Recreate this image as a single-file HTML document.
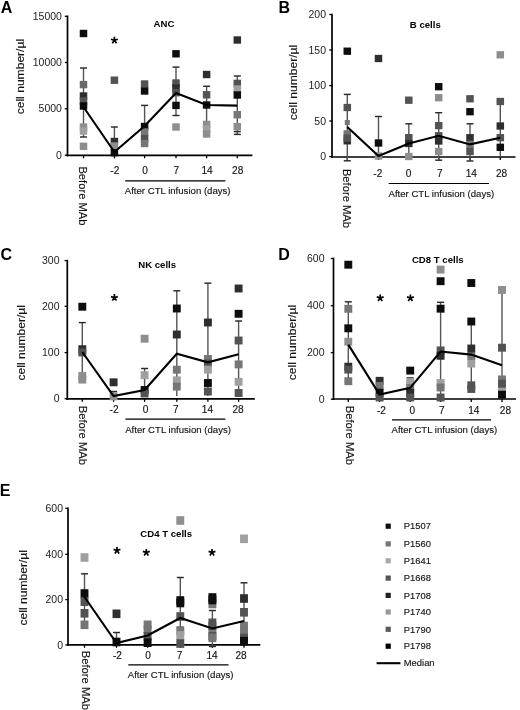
<!DOCTYPE html>
<html><head><meta charset="utf-8"><title>Figure</title>
<style>
html,body{margin:0;padding:0;background:#fff;}
body{width:520px;height:710px;overflow:hidden;}
svg{display:block;}
text{font-family:"Liberation Sans", sans-serif;fill:#111;stroke:#222;stroke-width:0.15px;}
.let{font-size:16px;font-weight:bold;fill:#000;stroke:none;}
.ttl{font-size:9.6px;font-weight:bold;fill:#000;stroke:none;}
.yl{font-size:10.3px;stroke:none;fill:#222;}
.ylab{font-size:10.8px;fill:#111;}
.xl{font-size:10.1px;fill:#111;}
.xl2{font-size:10.5px;fill:#111;}
.aft{font-size:9.6px;fill:#111;}
.lg{font-size:9.0px;fill:#111;}
.ast{stroke:#000;stroke-width:1.7;fill:none;}
.ax{stroke:#000;stroke-width:1.7;}
.tk{stroke:#000;stroke-width:1.3;}
.hl{stroke:#000;stroke-width:1.2;}
.eb{stroke:#555;stroke-width:1.4;}
.ec{stroke:#2a2a2a;stroke-width:1.45;}
.med{stroke:#000;stroke-width:2.1;fill:none;stroke-linejoin:miter;}
</style></head>
<body><svg width="520" height="710" viewBox="0 0 520 710">
<defs><filter id="soft" x="0" y="0" width="1" height="1"><feGaussianBlur stdDeviation="0.35"/></filter></defs>
<rect width="520" height="710" fill="#fff"/>
<g filter="url(#soft)">
<rect width="520" height="710" fill="#fff"/>
<text x="0.8" y="12.6" class="let">A</text>
<text x="164" y="27.3" class="ttl" text-anchor="middle">ANC</text>
<line x1="67.5" y1="15.5" x2="67.5" y2="156.3" class="ax"/>
<line x1="64.8" y1="16.3" x2="67.5" y2="16.3" class="tk"/>
<text transform="translate(61.9,19.9) scale(1.02,1)" class="yl" text-anchor="end">15000</text>
<line x1="64.8" y1="62.5" x2="67.5" y2="62.5" class="tk"/>
<text transform="translate(61.9,66.1) scale(1.02,1)" class="yl" text-anchor="end">10000</text>
<line x1="64.8" y1="108.8" x2="67.5" y2="108.8" class="tk"/>
<text transform="translate(61.9,112.4) scale(1.02,1)" class="yl" text-anchor="end">5000</text>
<line x1="64.8" y1="155.2" x2="67.5" y2="155.2" class="tk"/>
<text transform="translate(61.9,158.8) scale(1.02,1)" class="yl" text-anchor="end">0</text>
<line x1="66.6" y1="155.3" x2="252.4" y2="155.3" class="ax"/>
<line x1="83.5" y1="155.3" x2="83.5" y2="158.3" class="tk"/>
<line x1="114.4" y1="155.3" x2="114.4" y2="158.3" class="tk"/>
<line x1="144.6" y1="155.3" x2="144.6" y2="158.3" class="tk"/>
<line x1="176" y1="155.3" x2="176" y2="158.3" class="tk"/>
<line x1="206.6" y1="155.3" x2="206.6" y2="158.3" class="tk"/>
<line x1="237.3" y1="155.3" x2="237.3" y2="158.3" class="tk"/>
<text transform="translate(24,76.6) rotate(-90) scale(1.12,1)" class="ylab" text-anchor="middle">cell number/µl</text>
<text transform="translate(114.8,174.2)" class="xl" text-anchor="middle">-2</text>
<text transform="translate(145,174.2)" class="xl" text-anchor="middle">0</text>
<text transform="translate(176.4,174.2)" class="xl" text-anchor="middle">7</text>
<text transform="translate(207,174.2)" class="xl" text-anchor="middle">14</text>
<text transform="translate(237.7,174.2)" class="xl" text-anchor="middle">28</text>
<text transform="translate(78.9,166.4) rotate(90) scale(1.067,1)" class="xl2">Before MAb</text>
<line x1="125.2" y1="180.8" x2="225.4" y2="180.8" class="hl"/>
<text x="124.8" y="194.2" class="aft">After CTL infusion (days)</text>
<line x1="83.5" y1="68" x2="83.5" y2="137" class="eb"/>
<line x1="80" y1="68" x2="87" y2="68" class="ec"/>
<line x1="80" y1="137" x2="87" y2="137" class="ec"/>
<line x1="114.4" y1="127" x2="114.4" y2="152" class="eb"/>
<line x1="110.9" y1="127" x2="117.9" y2="127" class="ec"/>
<line x1="144.6" y1="105.4" x2="144.6" y2="143.5" class="eb"/>
<line x1="141.1" y1="105.4" x2="148.1" y2="105.4" class="ec"/>
<line x1="176" y1="67.1" x2="176" y2="115.5" class="eb"/>
<line x1="172.5" y1="67.1" x2="179.5" y2="67.1" class="ec"/>
<line x1="172.5" y1="115.5" x2="179.5" y2="115.5" class="ec"/>
<line x1="206.6" y1="86.3" x2="206.6" y2="132" class="eb"/>
<line x1="203.1" y1="86.3" x2="210.1" y2="86.3" class="ec"/>
<line x1="237.3" y1="76" x2="237.3" y2="134.4" class="eb"/>
<line x1="233.8" y1="76" x2="240.8" y2="76" class="ec"/>
<line x1="233.8" y1="134.4" x2="240.8" y2="134.4" class="ec"/>
<line x1="233.8" y1="131.6" x2="240.8" y2="131.6" class="ec"/>
<rect x="79.75" y="29.8" width="7.5" height="7.4" fill="#0d0d0d"/>
<rect x="79.75" y="80.9" width="7.5" height="7.4" fill="#6a6a6a"/>
<rect x="79.75" y="92.3" width="7.5" height="7.4" fill="#2e2e2e"/>
<rect x="79.75" y="97.3" width="7.5" height="7.4" fill="#525252"/>
<rect x="79.75" y="102.3" width="7.5" height="7.4" fill="#0d0d0d"/>
<rect x="79.75" y="123.3" width="7.5" height="7.4" fill="#8e8e8e"/>
<rect x="79.75" y="127.3" width="7.5" height="7.4" fill="#a0a0a0"/>
<rect x="79.75" y="142.6" width="7.5" height="7.4" fill="#8e8e8e"/>
<rect x="110.65" y="76.5" width="7.5" height="7.4" fill="#525252"/>
<rect x="110.65" y="137.8" width="7.5" height="7.4" fill="#2e2e2e"/>
<rect x="110.65" y="142.3" width="7.5" height="7.4" fill="#8e8e8e"/>
<rect x="110.65" y="149" width="7.5" height="7.4" fill="#0d0d0d"/>
<rect x="140.85" y="80.3" width="7.5" height="7.4" fill="#525252"/>
<rect x="140.85" y="87.3" width="7.5" height="7.4" fill="#0d0d0d"/>
<rect x="140.85" y="122.8" width="7.5" height="7.4" fill="#0d0d0d"/>
<rect x="140.85" y="128.3" width="7.5" height="7.4" fill="#767676"/>
<rect x="140.85" y="134.9" width="7.5" height="7.4" fill="#525252"/>
<rect x="140.85" y="139.8" width="7.5" height="7.4" fill="#767676"/>
<rect x="172.25" y="50.1" width="7.5" height="7.4" fill="#0d0d0d"/>
<rect x="172.25" y="79.3" width="7.5" height="7.4" fill="#525252"/>
<rect x="172.25" y="84.3" width="7.5" height="7.4" fill="#2e2e2e"/>
<rect x="172.25" y="89" width="7.5" height="7.4" fill="#525252"/>
<rect x="172.25" y="101.7" width="7.5" height="7.4" fill="#0d0d0d"/>
<rect x="172.25" y="123.3" width="7.5" height="7.4" fill="#8e8e8e"/>
<rect x="202.85" y="70.8" width="7.5" height="7.4" fill="#2e2e2e"/>
<rect x="202.85" y="91.1" width="7.5" height="7.4" fill="#525252"/>
<rect x="202.85" y="101.3" width="7.5" height="7.4" fill="#0d0d0d"/>
<rect x="202.85" y="120.7" width="7.5" height="7.4" fill="#8e8e8e"/>
<rect x="202.85" y="125.3" width="7.5" height="7.4" fill="#a0a0a0"/>
<rect x="202.85" y="130.3" width="7.5" height="7.4" fill="#8e8e8e"/>
<rect x="233.55" y="36.3" width="7.5" height="7.4" fill="#2e2e2e"/>
<rect x="233.55" y="79.7" width="7.5" height="7.4" fill="#525252"/>
<rect x="233.55" y="85.3" width="7.5" height="7.4" fill="#a0a0a0"/>
<rect x="233.55" y="91.3" width="7.5" height="7.4" fill="#0d0d0d"/>
<rect x="233.55" y="111" width="7.5" height="7.4" fill="#767676"/>
<rect x="233.55" y="123" width="7.5" height="7.4" fill="#8e8e8e"/>
<polyline points="83.5,107 114.4,152 144.6,126 176,93 206.6,105 237.3,105.6" class="med"/>
<path d="M114.4,40.3L114.4,36.7M114.4,40.3L117.82,39.19M114.4,40.3L116.52,43.21M114.4,40.3L112.28,43.21M114.4,40.3L110.98,39.19" class="ast"/>
<text x="278.6" y="12.6" class="let">B</text>
<text x="425.3" y="28" class="ttl" text-anchor="middle">B cells</text>
<line x1="332" y1="13.7" x2="332" y2="158" class="ax"/>
<line x1="329.3" y1="14.5" x2="332" y2="14.5" class="tk"/>
<text transform="translate(326,18.1) scale(1.02,1)" class="yl" text-anchor="end">200</text>
<line x1="329.3" y1="50" x2="332" y2="50" class="tk"/>
<text transform="translate(326,53.6) scale(1.02,1)" class="yl" text-anchor="end">150</text>
<line x1="329.3" y1="85.6" x2="332" y2="85.6" class="tk"/>
<text transform="translate(326,89.2) scale(1.02,1)" class="yl" text-anchor="end">100</text>
<line x1="329.3" y1="121" x2="332" y2="121" class="tk"/>
<text transform="translate(326,124.6) scale(1.02,1)" class="yl" text-anchor="end">50</text>
<line x1="329.3" y1="156.6" x2="332" y2="156.6" class="tk"/>
<text transform="translate(326,160.2) scale(1.02,1)" class="yl" text-anchor="end">0</text>
<line x1="331.1" y1="157" x2="515.5" y2="157" class="ax"/>
<line x1="347.3" y1="157" x2="347.3" y2="160" class="tk"/>
<line x1="378.5" y1="157" x2="378.5" y2="160" class="tk"/>
<line x1="408.8" y1="157" x2="408.8" y2="160" class="tk"/>
<line x1="438.7" y1="157" x2="438.7" y2="160" class="tk"/>
<line x1="470" y1="157" x2="470" y2="160" class="tk"/>
<line x1="500.3" y1="157" x2="500.3" y2="160" class="tk"/>
<text transform="translate(296.75,82.5) rotate(-90) scale(1.12,1)" class="ylab" text-anchor="middle">cell number/µl</text>
<text transform="translate(377.8,176.5)" class="xl" text-anchor="middle">-2</text>
<text transform="translate(408.6,176.5)" class="xl" text-anchor="middle">0</text>
<text transform="translate(439.7,176.5)" class="xl" text-anchor="middle">7</text>
<text transform="translate(471.3,176.5)" class="xl" text-anchor="middle">14</text>
<text transform="translate(501.6,176.5)" class="xl" text-anchor="middle">28</text>
<text transform="translate(342.8,168.9) rotate(90) scale(1.067,1)" class="xl2">Before MAb</text>
<line x1="388.7" y1="183.5" x2="489" y2="183.5" class="hl"/>
<text x="388.5" y="197" class="aft">After CTL infusion (days)</text>
<line x1="347.3" y1="94.4" x2="347.3" y2="160.8" class="eb"/>
<line x1="343.8" y1="94.4" x2="350.8" y2="94.4" class="ec"/>
<line x1="343.8" y1="160.8" x2="350.8" y2="160.8" class="ec"/>
<line x1="378.5" y1="116.5" x2="378.5" y2="156" class="eb"/>
<line x1="375" y1="116.5" x2="382" y2="116.5" class="ec"/>
<line x1="408.8" y1="123.8" x2="408.8" y2="156.5" class="eb"/>
<line x1="405.3" y1="123.8" x2="412.3" y2="123.8" class="ec"/>
<line x1="438.7" y1="112.7" x2="438.7" y2="160.2" class="eb"/>
<line x1="435.2" y1="112.7" x2="442.2" y2="112.7" class="ec"/>
<line x1="435.2" y1="160.2" x2="442.2" y2="160.2" class="ec"/>
<line x1="470" y1="123.8" x2="470" y2="161" class="eb"/>
<line x1="466.5" y1="123.8" x2="473.5" y2="123.8" class="ec"/>
<line x1="466.5" y1="161" x2="473.5" y2="161" class="ec"/>
<line x1="500.3" y1="101.5" x2="500.3" y2="157" class="eb"/>
<line x1="496.8" y1="101.5" x2="503.8" y2="101.5" class="ec"/>
<rect x="343.55" y="47.55" width="7.5" height="7.3" fill="#0d0d0d"/>
<rect x="343.55" y="103.85" width="7.5" height="7.3" fill="#525252"/>
<rect x="344.8" y="120" width="5" height="5" fill="#767676"/>
<rect x="343.55" y="130.25" width="7.5" height="7.3" fill="#767676"/>
<rect x="343.55" y="137.15" width="7.5" height="7.3" fill="#2e2e2e"/>
<rect x="343.55" y="134.45" width="7.5" height="7.3" fill="#525252"/>
<rect x="374.75" y="54.85" width="7.5" height="7.3" fill="#2e2e2e"/>
<rect x="374.75" y="139.35" width="7.5" height="7.3" fill="#0d0d0d"/>
<rect x="374.75" y="152.35" width="7.5" height="7.3" fill="#8e8e8e"/>
<rect x="405.05" y="96.55" width="7.5" height="7.3" fill="#525252"/>
<rect x="405.05" y="134.05" width="7.5" height="7.3" fill="#525252"/>
<rect x="405.05" y="139.85" width="7.5" height="7.3" fill="#2e2e2e"/>
<rect x="405.05" y="152.85" width="7.5" height="7.3" fill="#8e8e8e"/>
<rect x="434.95" y="83.05" width="7.5" height="7.3" fill="#0d0d0d"/>
<rect x="434.95" y="94.05" width="7.5" height="7.3" fill="#8e8e8e"/>
<rect x="434.95" y="121.95" width="7.5" height="7.3" fill="#525252"/>
<rect x="434.95" y="132.15" width="7.5" height="7.3" fill="#525252"/>
<rect x="434.95" y="137.35" width="7.5" height="7.3" fill="#2e2e2e"/>
<rect x="434.95" y="147.85" width="7.5" height="7.3" fill="#8e8e8e"/>
<rect x="466.25" y="95.15" width="7.5" height="7.3" fill="#525252"/>
<rect x="466.25" y="108.05" width="7.5" height="7.3" fill="#0d0d0d"/>
<rect x="466.25" y="134.05" width="7.5" height="7.3" fill="#2e2e2e"/>
<rect x="466.25" y="140.75" width="7.5" height="7.3" fill="#767676"/>
<rect x="466.25" y="147.85" width="7.5" height="7.3" fill="#525252"/>
<rect x="496.55" y="51.15" width="7.5" height="7.3" fill="#8e8e8e"/>
<rect x="496.55" y="97.85" width="7.5" height="7.3" fill="#525252"/>
<rect x="496.55" y="122.35" width="7.5" height="7.3" fill="#2e2e2e"/>
<rect x="496.55" y="134.05" width="7.5" height="7.3" fill="#525252"/>
<rect x="496.55" y="143.65" width="7.5" height="7.3" fill="#0d0d0d"/>
<polyline points="347.3,127 378.5,156 408.8,143.5 438.7,135.8 470,144.4 500.3,137.7" class="med"/>
<text x="0.4" y="260" class="let">C</text>
<text x="157.2" y="268.4" class="ttl" text-anchor="middle">NK cells</text>
<line x1="67.3" y1="259.8" x2="67.3" y2="399.8" class="ax"/>
<line x1="64.6" y1="260.6" x2="67.3" y2="260.6" class="tk"/>
<text transform="translate(59.5,264.2) scale(1.02,1)" class="yl" text-anchor="end">300</text>
<line x1="64.6" y1="306.3" x2="67.3" y2="306.3" class="tk"/>
<text transform="translate(59.5,309.9) scale(1.02,1)" class="yl" text-anchor="end">200</text>
<line x1="64.6" y1="352.6" x2="67.3" y2="352.6" class="tk"/>
<text transform="translate(59.5,356.2) scale(1.02,1)" class="yl" text-anchor="end">100</text>
<line x1="64.6" y1="398.7" x2="67.3" y2="398.7" class="tk"/>
<text transform="translate(59.5,402.3) scale(1.02,1)" class="yl" text-anchor="end">0</text>
<line x1="66.4" y1="398.8" x2="254.8" y2="398.8" class="ax"/>
<line x1="82.3" y1="398.8" x2="82.3" y2="401.8" class="tk"/>
<line x1="113.6" y1="398.8" x2="113.6" y2="401.8" class="tk"/>
<line x1="144.6" y1="398.8" x2="144.6" y2="401.8" class="tk"/>
<line x1="176.8" y1="398.8" x2="176.8" y2="401.8" class="tk"/>
<line x1="207.9" y1="398.8" x2="207.9" y2="401.8" class="tk"/>
<line x1="238.6" y1="398.8" x2="238.6" y2="401.8" class="tk"/>
<text transform="translate(24.5,342.8) rotate(-90) scale(1.12,1)" class="ylab" text-anchor="middle">cell number/µl</text>
<text transform="translate(114,412.8)" class="xl" text-anchor="middle">-2</text>
<text transform="translate(145.6,412.8)" class="xl" text-anchor="middle">0</text>
<text transform="translate(175.8,412.8)" class="xl" text-anchor="middle">7</text>
<text transform="translate(207.4,412.8)" class="xl" text-anchor="middle">14</text>
<text transform="translate(238.1,412.8)" class="xl" text-anchor="middle">28</text>
<text transform="translate(79.2,405.8) rotate(90) scale(1.067,1)" class="xl2">Before MAb</text>
<line x1="125.4" y1="419.2" x2="225.4" y2="419.2" class="hl"/>
<text x="125.2" y="432.7" class="aft">After CTL infusion (days)</text>
<line x1="82.3" y1="322.6" x2="82.3" y2="380" class="eb"/>
<line x1="78.8" y1="322.6" x2="85.8" y2="322.6" class="ec"/>
<line x1="113.6" y1="391.5" x2="113.6" y2="396" class="eb"/>
<line x1="110.1" y1="391.5" x2="117.1" y2="391.5" class="ec"/>
<line x1="144.6" y1="368.5" x2="144.6" y2="393.5" class="eb"/>
<line x1="141.1" y1="368.5" x2="148.1" y2="368.5" class="ec"/>
<line x1="176.8" y1="290.8" x2="176.8" y2="396" class="eb"/>
<line x1="173.3" y1="290.8" x2="180.3" y2="290.8" class="ec"/>
<line x1="207.9" y1="283.2" x2="207.9" y2="396" class="eb"/>
<line x1="204.4" y1="283.2" x2="211.4" y2="283.2" class="ec"/>
<line x1="238.6" y1="321" x2="238.6" y2="393" class="eb"/>
<line x1="235.1" y1="321" x2="242.1" y2="321" class="ec"/>
<rect x="78.35" y="302.75" width="7.9" height="7.9" fill="#0d0d0d"/>
<rect x="78.35" y="345.25" width="7.9" height="7.9" fill="#2e2e2e"/>
<rect x="78.35" y="348.55" width="7.9" height="7.9" fill="#525252"/>
<rect x="78.35" y="372.05" width="7.9" height="7.9" fill="#8e8e8e"/>
<rect x="78.35" y="375.65" width="7.9" height="7.9" fill="#8e8e8e"/>
<rect x="109.65" y="378.35" width="7.9" height="7.9" fill="#2e2e2e"/>
<rect x="109.65" y="392.35" width="7.9" height="7.9" fill="#8e8e8e"/>
<rect x="140.65" y="334.75" width="7.9" height="7.9" fill="#8e8e8e"/>
<rect x="140.65" y="371.25" width="7.9" height="7.9" fill="#a0a0a0"/>
<rect x="140.65" y="386.05" width="7.9" height="7.9" fill="#0d0d0d"/>
<rect x="140.65" y="389.55" width="7.9" height="7.9" fill="#525252"/>
<rect x="172.85" y="304.55" width="7.9" height="7.9" fill="#0d0d0d"/>
<rect x="172.85" y="330.55" width="7.9" height="7.9" fill="#2e2e2e"/>
<rect x="172.85" y="365.75" width="7.9" height="7.9" fill="#767676"/>
<rect x="172.85" y="376.35" width="7.9" height="7.9" fill="#a0a0a0"/>
<rect x="172.85" y="382.65" width="7.9" height="7.9" fill="#767676"/>
<rect x="203.95" y="318.55" width="7.9" height="7.9" fill="#2e2e2e"/>
<rect x="203.95" y="355.05" width="7.9" height="7.9" fill="#767676"/>
<rect x="203.95" y="359.45" width="7.9" height="7.9" fill="#525252"/>
<rect x="203.95" y="365.75" width="7.9" height="7.9" fill="#a0a0a0"/>
<rect x="203.95" y="379.05" width="7.9" height="7.9" fill="#0d0d0d"/>
<rect x="203.95" y="387.55" width="7.9" height="7.9" fill="#525252"/>
<rect x="234.65" y="284.55" width="7.9" height="7.9" fill="#2e2e2e"/>
<rect x="234.65" y="309.85" width="7.9" height="7.9" fill="#0d0d0d"/>
<rect x="234.65" y="336.55" width="7.9" height="7.9" fill="#525252"/>
<rect x="234.65" y="360.45" width="7.9" height="7.9" fill="#767676"/>
<rect x="234.65" y="377.85" width="7.9" height="7.9" fill="#a0a0a0"/>
<rect x="234.65" y="389.05" width="7.9" height="7.9" fill="#525252"/>
<polyline points="82.3,352 113.6,396 144.6,390 176.8,353.8 207.9,362.3 238.6,354.3" class="med"/>
<path d="M114.4,297.7L114.4,294.1M114.4,297.7L117.82,296.59M114.4,297.7L116.52,300.61M114.4,297.7L112.28,300.61M114.4,297.7L110.98,296.59" class="ast"/>
<text x="278.2" y="259.5" class="let">D</text>
<text x="437.8" y="263" class="ttl" text-anchor="middle">CD8 T cells</text>
<line x1="333.5" y1="257.7" x2="333.5" y2="400" class="ax"/>
<line x1="330.8" y1="258.5" x2="333.5" y2="258.5" class="tk"/>
<text transform="translate(324.5,262.1) scale(1.02,1)" class="yl" text-anchor="end">600</text>
<line x1="330.8" y1="305.7" x2="333.5" y2="305.7" class="tk"/>
<text transform="translate(324.5,309.3) scale(1.02,1)" class="yl" text-anchor="end">400</text>
<line x1="330.8" y1="352.6" x2="333.5" y2="352.6" class="tk"/>
<text transform="translate(324.5,356.2) scale(1.02,1)" class="yl" text-anchor="end">200</text>
<line x1="330.8" y1="399.2" x2="333.5" y2="399.2" class="tk"/>
<text transform="translate(324.5,402.8) scale(1.02,1)" class="yl" text-anchor="end">0</text>
<line x1="332.6" y1="399" x2="516" y2="399" class="ax"/>
<line x1="348.3" y1="399" x2="348.3" y2="402" class="tk"/>
<line x1="379.6" y1="399" x2="379.6" y2="402" class="tk"/>
<line x1="410.2" y1="399" x2="410.2" y2="402" class="tk"/>
<line x1="440.6" y1="399" x2="440.6" y2="402" class="tk"/>
<line x1="471.3" y1="399" x2="471.3" y2="402" class="tk"/>
<line x1="502" y1="399" x2="502" y2="402" class="tk"/>
<text transform="translate(296.45,342.5) rotate(-90) scale(1.12,1)" class="ylab" text-anchor="middle">cell number/µl</text>
<text transform="translate(381.4,413.5)" class="xl" text-anchor="middle">-2</text>
<text transform="translate(412.2,413.5)" class="xl" text-anchor="middle">0</text>
<text transform="translate(441.8,413.5)" class="xl" text-anchor="middle">7</text>
<text transform="translate(473.8,413.5)" class="xl" text-anchor="middle">14</text>
<text transform="translate(505.4,413.5)" class="xl" text-anchor="middle">28</text>
<text transform="translate(345.8,405.8) rotate(90) scale(1.067,1)" class="xl2">Before MAb</text>
<line x1="392" y1="419.8" x2="491" y2="419.8" class="hl"/>
<text x="391.5" y="433.3" class="aft">After CTL infusion (days)</text>
<line x1="348.3" y1="301.8" x2="348.3" y2="381.2" class="eb"/>
<line x1="344.8" y1="301.8" x2="351.8" y2="301.8" class="ec"/>
<line x1="410.2" y1="377.9" x2="410.2" y2="397.5" class="eb"/>
<line x1="406.7" y1="377.9" x2="413.7" y2="377.9" class="ec"/>
<line x1="440.6" y1="302.3" x2="440.6" y2="397.5" class="eb"/>
<line x1="437.1" y1="302.3" x2="444.1" y2="302.3" class="ec"/>
<line x1="471.3" y1="321.5" x2="471.3" y2="386.5" class="eb"/>
<line x1="502" y1="290" x2="502" y2="397" class="eb"/>
<line x1="498.5" y1="290" x2="505.5" y2="290" class="ec"/>
<rect x="344.35" y="260.75" width="7.9" height="7.9" fill="#0d0d0d"/>
<rect x="344.35" y="304.85" width="7.9" height="7.9" fill="#767676"/>
<rect x="344.35" y="324.35" width="7.9" height="7.9" fill="#0d0d0d"/>
<rect x="344.35" y="337.75" width="7.9" height="7.9" fill="#8e8e8e"/>
<rect x="344.35" y="362.75" width="7.9" height="7.9" fill="#2e2e2e"/>
<rect x="344.35" y="365.65" width="7.9" height="7.9" fill="#525252"/>
<rect x="344.35" y="377.25" width="7.9" height="7.9" fill="#767676"/>
<rect x="375.65" y="376.85" width="7.9" height="7.9" fill="#2e2e2e"/>
<rect x="375.65" y="382.05" width="7.9" height="7.9" fill="#767676"/>
<rect x="375.65" y="388.75" width="7.9" height="7.9" fill="#0d0d0d"/>
<rect x="375.65" y="393.55" width="7.9" height="7.9" fill="#525252"/>
<rect x="406.25" y="366.65" width="7.9" height="7.9" fill="#0d0d0d"/>
<rect x="406.25" y="378.05" width="7.9" height="7.9" fill="#a0a0a0"/>
<rect x="406.25" y="383.95" width="7.9" height="7.9" fill="#767676"/>
<rect x="406.25" y="388.75" width="7.9" height="7.9" fill="#2e2e2e"/>
<rect x="406.25" y="393.55" width="7.9" height="7.9" fill="#525252"/>
<rect x="436.65" y="265.65" width="7.9" height="7.9" fill="#8e8e8e"/>
<rect x="436.65" y="277.25" width="7.9" height="7.9" fill="#0d0d0d"/>
<rect x="436.65" y="304.75" width="7.9" height="7.9" fill="#0d0d0d"/>
<rect x="436.65" y="346.45" width="7.9" height="7.9" fill="#525252"/>
<rect x="436.65" y="351.85" width="7.9" height="7.9" fill="#2e2e2e"/>
<rect x="436.65" y="379.05" width="7.9" height="7.9" fill="#a0a0a0"/>
<rect x="436.65" y="383.55" width="7.9" height="7.9" fill="#767676"/>
<rect x="436.65" y="393.55" width="7.9" height="7.9" fill="#525252"/>
<rect x="467.35" y="279.05" width="7.9" height="7.9" fill="#0d0d0d"/>
<rect x="467.35" y="317.55" width="7.9" height="7.9" fill="#0d0d0d"/>
<rect x="467.35" y="359.65" width="7.9" height="7.9" fill="#a0a0a0"/>
<rect x="467.35" y="352.05" width="7.9" height="7.9" fill="#767676"/>
<rect x="467.35" y="344.55" width="7.9" height="7.9" fill="#2e2e2e"/>
<rect x="467.35" y="381.35" width="7.9" height="7.9" fill="#525252"/>
<rect x="467.35" y="385.05" width="7.9" height="7.9" fill="#525252"/>
<rect x="498.05" y="286.05" width="7.9" height="7.9" fill="#8e8e8e"/>
<rect x="498.05" y="343.75" width="7.9" height="7.9" fill="#525252"/>
<rect x="498.05" y="384.55" width="7.9" height="7.9" fill="#a0a0a0"/>
<rect x="498.05" y="375.45" width="7.9" height="7.9" fill="#767676"/>
<rect x="498.05" y="379.75" width="7.9" height="7.9" fill="#525252"/>
<rect x="498.05" y="390.75" width="7.9" height="7.9" fill="#0d0d0d"/>
<polyline points="348.3,344.6 379.6,394.6 410.2,387.9 440.6,351.5 471.3,354.6 502,365.2" class="med"/>
<path d="M380.2,298L380.2,294.4M380.2,298L383.62,296.89M380.2,298L382.32,300.91M380.2,298L378.08,300.91M380.2,298L376.78,296.89" class="ast"/>
<path d="M410.4,298L410.4,294.4M410.4,298L413.82,296.89M410.4,298L412.52,300.91M410.4,298L408.28,300.91M410.4,298L406.98,296.89" class="ast"/>
<text x="-0.2" y="495.8" class="let">E</text>
<text x="166.2" y="537" class="ttl" text-anchor="middle">CD4 T cells</text>
<line x1="68" y1="507.5" x2="68" y2="645.8" class="ax"/>
<line x1="65.3" y1="508.3" x2="68" y2="508.3" class="tk"/>
<text transform="translate(63,511.9) scale(1.02,1)" class="yl" text-anchor="end">600</text>
<line x1="65.3" y1="554.3" x2="68" y2="554.3" class="tk"/>
<text transform="translate(63,557.9) scale(1.02,1)" class="yl" text-anchor="end">400</text>
<line x1="65.3" y1="599.6" x2="68" y2="599.6" class="tk"/>
<text transform="translate(63,603.2) scale(1.02,1)" class="yl" text-anchor="end">200</text>
<line x1="65.3" y1="645" x2="68" y2="645" class="tk"/>
<text transform="translate(63,648.6) scale(1.02,1)" class="yl" text-anchor="end">0</text>
<line x1="67.1" y1="644.8" x2="260.3" y2="644.8" class="ax"/>
<line x1="84.5" y1="644.8" x2="84.5" y2="647.8" class="tk"/>
<line x1="116.5" y1="644.8" x2="116.5" y2="647.8" class="tk"/>
<line x1="147.6" y1="644.8" x2="147.6" y2="647.8" class="tk"/>
<line x1="180.3" y1="644.8" x2="180.3" y2="647.8" class="tk"/>
<line x1="212.4" y1="644.8" x2="212.4" y2="647.8" class="tk"/>
<line x1="244" y1="644.8" x2="244" y2="647.8" class="tk"/>
<text transform="translate(26.7,587.8) rotate(-90) scale(1.12,1)" class="ylab" text-anchor="middle">cell number/µl</text>
<text transform="translate(117.4,658.5)" class="xl" text-anchor="middle">-2</text>
<text transform="translate(148,658.5)" class="xl" text-anchor="middle">0</text>
<text transform="translate(179.5,658.5)" class="xl" text-anchor="middle">7</text>
<text transform="translate(212.1,658.5)" class="xl" text-anchor="middle">14</text>
<text transform="translate(241,658.5)" class="xl" text-anchor="middle">28</text>
<text transform="translate(81.5,650.8) rotate(90) scale(1.067,1)" class="xl2">Before MAb</text>
<line x1="128.3" y1="664.8" x2="228.5" y2="664.8" class="hl"/>
<text x="127.8" y="678.3" class="aft">After CTL infusion (days)</text>
<line x1="84.5" y1="573.8" x2="84.5" y2="624.8" class="eb"/>
<line x1="81" y1="573.8" x2="88" y2="573.8" class="ec"/>
<line x1="116.5" y1="632.5" x2="116.5" y2="642" class="eb"/>
<line x1="113" y1="632.5" x2="120" y2="632.5" class="ec"/>
<line x1="180.3" y1="577.5" x2="180.3" y2="627.3" class="eb"/>
<line x1="176.8" y1="577.5" x2="183.8" y2="577.5" class="ec"/>
<line x1="176.8" y1="627.3" x2="183.8" y2="627.3" class="ec"/>
<line x1="212.4" y1="610.5" x2="212.4" y2="646.5" class="eb"/>
<line x1="208.9" y1="610.5" x2="215.9" y2="610.5" class="ec"/>
<line x1="208.9" y1="646.5" x2="215.9" y2="646.5" class="ec"/>
<line x1="244" y1="582.8" x2="244" y2="641" class="eb"/>
<line x1="240.5" y1="582.8" x2="247.5" y2="582.8" class="ec"/>
<rect x="80.55" y="553.2" width="7.9" height="8.6" fill="#a0a0a0"/>
<rect x="80.55" y="589.2" width="7.9" height="8.6" fill="#0d0d0d"/>
<rect x="80.55" y="597.4" width="7.9" height="8.6" fill="#525252"/>
<rect x="80.55" y="609" width="7.9" height="8.6" fill="#525252"/>
<rect x="80.55" y="620.5" width="7.9" height="8.6" fill="#767676"/>
<rect x="112.55" y="609.5" width="7.9" height="8.6" fill="#2e2e2e"/>
<rect x="112.55" y="637.7" width="7.9" height="8.6" fill="#0d0d0d"/>
<rect x="143.65" y="620.5" width="7.9" height="8.6" fill="#767676"/>
<rect x="143.65" y="625.3" width="7.9" height="8.6" fill="#767676"/>
<rect x="143.65" y="632" width="7.9" height="8.6" fill="#525252"/>
<rect x="143.65" y="638.4" width="7.9" height="8.6" fill="#0d0d0d"/>
<rect x="176.35" y="516.2" width="7.9" height="8.6" fill="#8e8e8e"/>
<rect x="176.35" y="596.2" width="7.9" height="8.6" fill="#0d0d0d"/>
<rect x="176.35" y="598.7" width="7.9" height="8.6" fill="#0d0d0d"/>
<rect x="176.35" y="612.2" width="7.9" height="8.6" fill="#525252"/>
<rect x="176.35" y="626.5" width="7.9" height="8.6" fill="#767676"/>
<rect x="176.35" y="631.1" width="7.9" height="8.6" fill="#a0a0a0"/>
<rect x="176.35" y="639.2" width="7.9" height="8.6" fill="#525252"/>
<rect x="208.45" y="599.7" width="7.9" height="8.6" fill="#767676"/>
<rect x="208.45" y="593.2" width="7.9" height="8.6" fill="#0d0d0d"/>
<rect x="208.45" y="595.7" width="7.9" height="8.6" fill="#0d0d0d"/>
<rect x="208.45" y="626.9" width="7.9" height="8.6" fill="#a0a0a0"/>
<rect x="208.45" y="618.5" width="7.9" height="8.6" fill="#525252"/>
<rect x="208.45" y="621.9" width="7.9" height="8.6" fill="#525252"/>
<rect x="208.45" y="631.5" width="7.9" height="8.6" fill="#525252"/>
<rect x="208.45" y="633.5" width="7.9" height="8.6" fill="#767676"/>
<rect x="240.05" y="534.5" width="7.9" height="8.6" fill="#a0a0a0"/>
<rect x="240.05" y="594.2" width="7.9" height="8.6" fill="#2e2e2e"/>
<rect x="240.05" y="608" width="7.9" height="8.6" fill="#525252"/>
<rect x="240.05" y="621.7" width="7.9" height="8.6" fill="#767676"/>
<rect x="240.05" y="627.7" width="7.9" height="8.6" fill="#767676"/>
<rect x="240.05" y="633.7" width="7.9" height="8.6" fill="#525252"/>
<rect x="240.05" y="636.9" width="7.9" height="8.6" fill="#0d0d0d"/>
<polyline points="84.5,597 116.5,643 147.6,635.4 180.3,618 212.4,628.5 244,621" class="med"/>
<path d="M117,550.5L117,546.9M117,550.5L120.42,549.39M117,550.5L119.12,553.41M117,550.5L114.88,553.41M117,550.5L113.58,549.39" class="ast"/>
<path d="M146.3,552.5L146.3,548.9M146.3,552.5L149.72,551.39M146.3,552.5L148.42,555.41M146.3,552.5L144.18,555.41M146.3,552.5L142.88,551.39" class="ast"/>
<path d="M212,552.5L212,548.9M212,552.5L215.42,551.39M212,552.5L214.12,555.41M212,552.5L209.88,555.41M212,552.5L208.58,551.39" class="ast"/>
<rect x="385.6" y="523.6" width="5.2" height="5.2" fill="#111"/>
<text transform="translate(403.8,529.42) scale(1.045,1)" class="lg">P1507</text>
<rect x="385.6" y="541.3" width="5.2" height="5.2" fill="#777"/>
<text transform="translate(403.8,547.12) scale(1.045,1)" class="lg">P1560</text>
<rect x="385.6" y="558.2" width="5.2" height="5.2" fill="#aaa"/>
<text transform="translate(403.8,564.02) scale(1.045,1)" class="lg">P1641</text>
<rect x="385.6" y="575.5" width="5.2" height="5.2" fill="#555"/>
<text transform="translate(403.8,581.32) scale(1.045,1)" class="lg">P1668</text>
<rect x="385.6" y="592.8" width="5.2" height="5.2" fill="#222"/>
<text transform="translate(403.8,598.62) scale(1.045,1)" class="lg">P1708</text>
<rect x="385.6" y="609.4" width="5.2" height="5.2" fill="#999"/>
<text transform="translate(403.8,615.22) scale(1.045,1)" class="lg">P1740</text>
<rect x="385.6" y="626.7" width="5.2" height="5.2" fill="#5a5a5a"/>
<text transform="translate(403.8,632.52) scale(1.045,1)" class="lg">P1790</text>
<rect x="385.6" y="643.6" width="5.2" height="5.2" fill="#000"/>
<text transform="translate(403.8,649.42) scale(1.045,1)" class="lg">P1798</text>
<line x1="376.6" y1="663.2" x2="400.4" y2="663.2" class="med"/>
<text transform="translate(403.8,666.42) scale(1.045,1)" class="lg">Median</text>
</g>
</svg></body></html>
